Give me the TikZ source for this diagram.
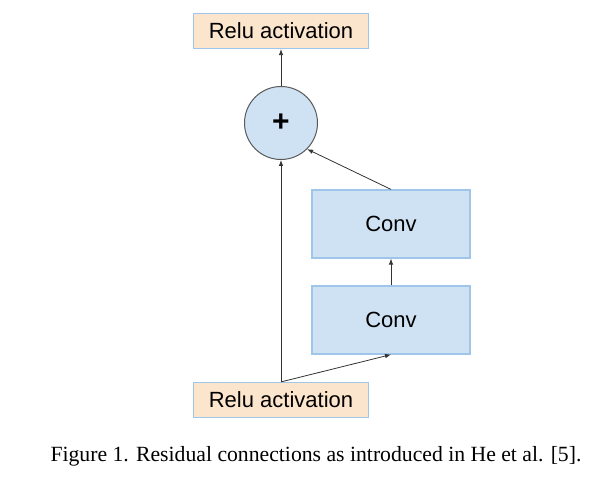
\documentclass[tikz,border=0pt]{standalone}
\usepackage{fontspec}
\setmainfont{Liberation Serif}
\setsansfont{Liberation Sans}
\usetikzlibrary{arrows.meta,positioning}
\definecolor{reluorange}{HTML}{FCE5CD}
\definecolor{convblue}{HTML}{CFE2F3}
\definecolor{boxedge}{HTML}{9FC5E8}
\definecolor{circedge}{HTML}{595959}
\tikzset{
  relubox/.style={draw=boxedge, line width=1.2pt, fill=reluorange, minimum width=175pt, minimum height=35pt, font=\sffamily\fontsize{22}{26}\selectfont},
  convbox/.style={draw=boxedge, line width=1.2pt, fill=convblue, minimum width=158pt, minimum height=68pt, font=\sffamily\fontsize{22}{26}\selectfont},
  addnode/.style={circle, draw=circedge, line width=1pt, fill=convblue, minimum size=73pt, inner sep=0pt},
  flow/.style={-{Latex[length=6pt,width=4.5pt]}, line width=0.8pt, black!80}
}
\begin{document}
\begin{tikzpicture}[x=1pt,y=-1pt]
	\useasboundingbox (0,0) rectangle (598,494);
	% blocks
	\node[addnode] (add) at (281,123) {\sffamily\bfseries\fontsize{30}{30}\selectfont +};
	\node[relubox] (relutop) at (281,31) {Relu activation};
	\node[convbox] (convtop) at (391,224) {Conv};
	\node[convbox] (convbot) at (391,320) {Conv};
	\node[relubox] (relubot) at (281,400) {Relu activation};
	% connections
	\draw[flow] (relubot.north) -- (add.south);
	\draw[flow] (relubot.north) -- (convbot.south);
	\draw[flow] (convbot.north) -- (convtop.south);
	\draw[flow] (convtop.north) -- (add.-45);
	\draw[flow] (add.north) -- (relutop.south);
	% caption
	\node[font=\fontsize{21.7}{26}\selectfont] (caption) at (316,456) {Figure 1. Residual connections as introduced in He et al. [5].};
\end{tikzpicture}
\end{document}
